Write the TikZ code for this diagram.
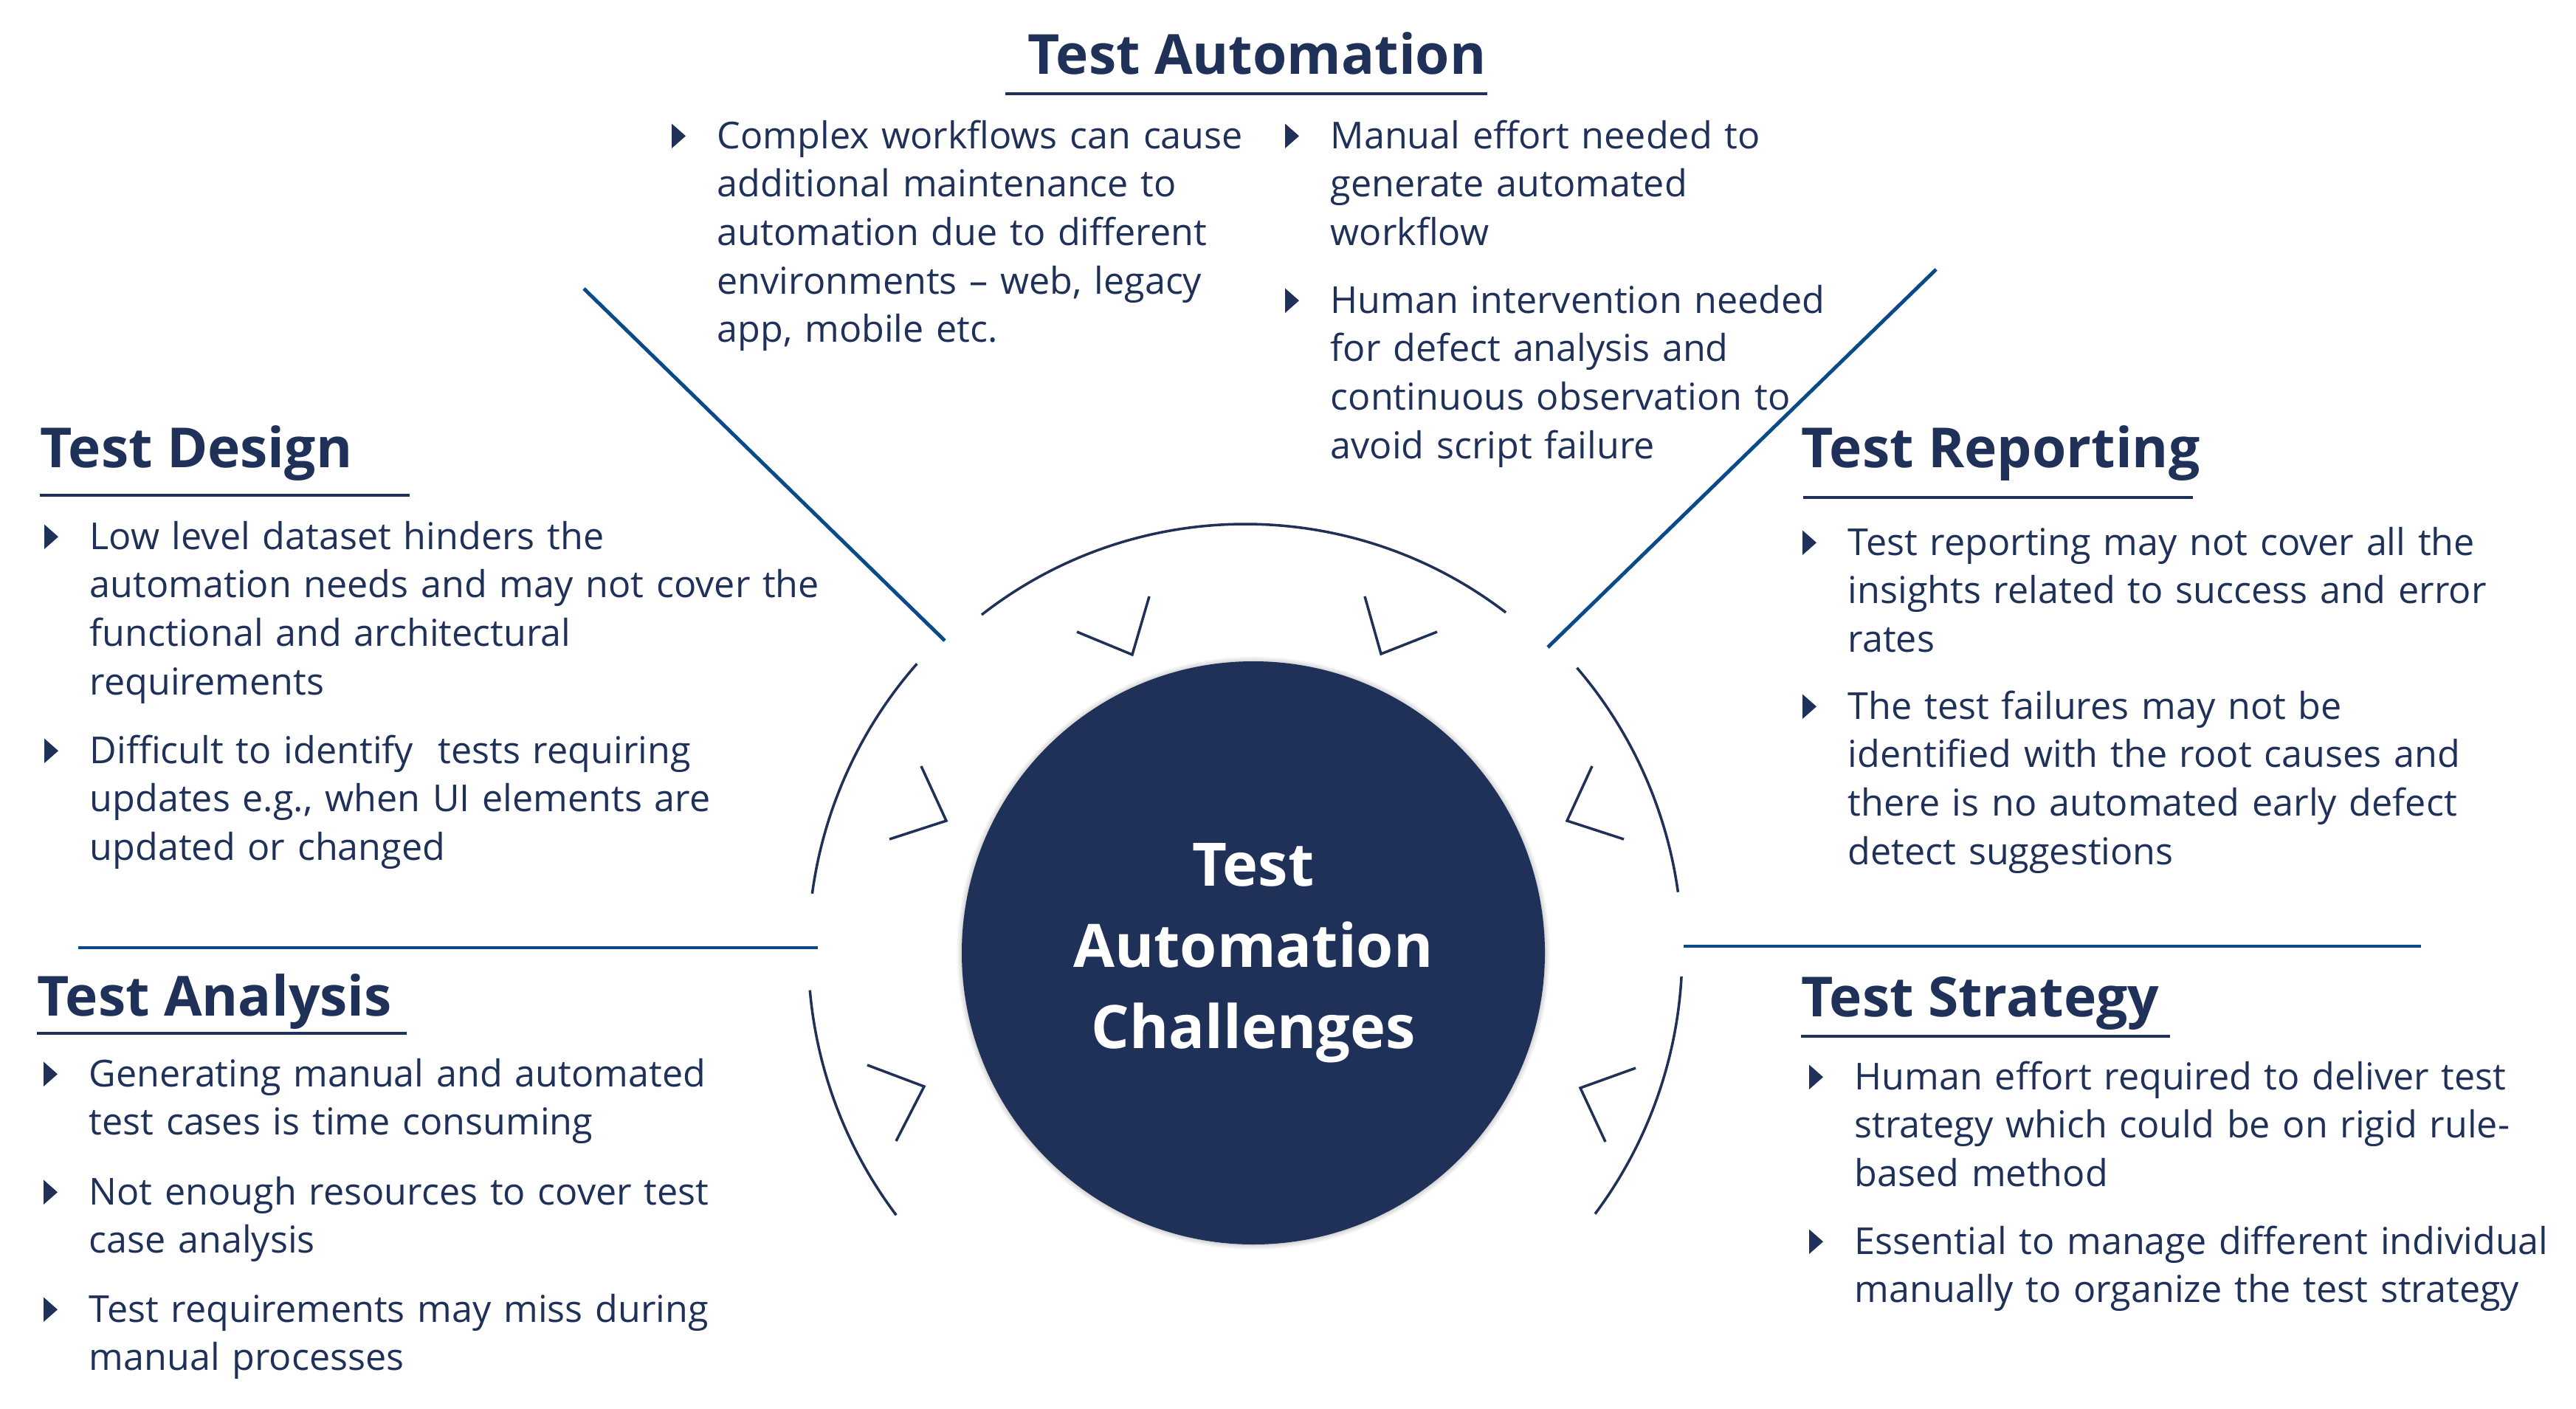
\documentclass[tikz,border=0pt]{standalone}
\usepackage{fontspec}
\setmainfont{Open Sans}
\usetikzlibrary{shadows.blur}
\definecolor{navy}{HTML}{1F3158}
\definecolor{lineblue}{HTML}{0B4A8A}
\tikzset{
  head/.style={anchor=base west, inner sep=0, text=navy, font=\fontsize{21.3}{25}\selectfont\bfseries},
  item/.style={anchor=base west, inner sep=0, text=navy, align=left, text width=12cm, font=\fontsize{14.3}{18.7}\selectfont},
  rule/.style={navy, line width=1.3pt},
  divider/.style={lineblue, line width=1.4pt},
  ring/.style={navy, line width=1pt},
}
\begin{document}
\begin{tikzpicture}
        \useasboundingbox (0,0) rectangle (34.90,-19.08);
        \coordinate (c) at (16.87,-12.90);
        \node[circle, fill=navy, minimum size=7.9cm, inner sep=0, text=white, align=center,
              font=\fontsize{23.1}{31.3}\selectfont\bfseries,
              blur shadow={shadow xshift=0.02, shadow yshift=-0.09, shadow blur steps=12, shadow opacity=35}]
              (hub) at (16.98,-12.91) {Test\\Automation\\Challenges};
        \draw[ring] ([shift={(52.5:5.80)}]c) arc[start angle=52.5, end angle=128, radius=5.80];
        \draw[ring] ([shift={(138.7:5.92)}]c) arc[start angle=138.7, end angle=172.3, radius=5.92];
        \draw[ring] ([shift={(185:5.92)}]c) arc[start angle=185, end angle=217, radius=5.92];
        \draw[ring] ([shift={(7.9:5.92)}]c) arc[start angle=7.9, end angle=40.6, radius=5.92];
        \draw[ring] ([shift={(-36.8:5.92)}]c) arc[start angle=-36.8, end angle=-3.2, radius=5.92];
        \draw[ring] (14.59,-8.56) -- (15.34,-8.87) -- (15.57,-8.08);
        \draw[ring] (18.49,-8.08) -- (18.71,-8.86) -- (19.47,-8.56);
        \draw[ring] (12.48,-10.38) -- (12.82,-11.12) -- (12.05,-11.37);
        \draw[ring] (11.75,-14.43) -- (12.52,-14.72) -- (12.14,-15.46);
        \draw[ring] (21.57,-10.38) -- (21.23,-11.12) -- (22.00,-11.37);
        \draw[ring] (22.16,-14.47) -- (21.41,-14.74) -- (21.75,-15.47);
        \draw[divider] (7.91,-3.91) -- (12.80,-8.68);
        \draw[divider] (26.23,-3.65) -- (20.97,-8.77);
        \draw[divider] (1.06,-12.84) -- (11.08,-12.84);
        \draw[divider] (22.81,-12.82) -- (32.80,-12.82);
        \node[head] (autoH) at (13.92,-1.00) {Test Automation};
        \draw[rule] (13.62,-1.27) -- (20.15,-1.27);
        \node[item] (m1) at (9.71,-2.01) {Complex workflows can cause\\additional maintenance to\\automation due to different\\environments – web, legacy\\app, mobile etc.};
        \node[item] (m2) at (18.02,-2.01) {Manual effort needed to\\generate automated\\workflow};
        \node[item] (m3) at (18.02,-4.24) {Human intervention needed\\for defect analysis and\\continuous observation to\\avoid script failure};
        \node[head] (desH) at (0.54,-6.33) {Test Design};
        \draw[rule] (0.54,-6.71) -- (5.55,-6.71);
        \node[item] (d1) at (1.21,-7.44) {Low level dataset hinders the\\automation needs and may not cover the\\functional and architectural\\requirements};
        \node[item] (d2) at (1.21,-10.34) {Difficult to identify\ \ tests requiring\\updates e.g., when UI elements are\\updated or changed};
        \node[head] (anaH) at (0.50,-13.76) {Test Analysis};
        \draw[rule] (0.50,-14.00) -- (5.51,-14.00);
        \node[item] (a1) at (1.20,-14.72) {Generating manual and automated\\test cases is time consuming};
        \node[item] (a2) at (1.20,-16.32) {Not enough resources to cover test\\case analysis};
        \node[item] (a3) at (1.20,-17.91) {Test requirements may miss during\\manual processes};
        \node[head] (repH) at (24.40,-6.33) {Test Reporting};
        \draw[rule] (24.43,-6.74) -- (29.71,-6.74);
        \node[item] (r1) at (25.03,-7.52) {Test reporting may not cover all the\\insights related to success and error\\rates};
        \node[item] (r2) at (25.03,-9.74) {The test failures may not be\\identified with the root causes and\\there is no automated early defect\\detect suggestions};
        \node[head] (strH) at (24.40,-13.77) {Test Strategy};
        \draw[rule] (24.40,-14.04) -- (29.40,-14.04);
        \node[item] (s1) at (25.12,-14.76) {Human effort required to deliver test\\strategy which could be on rigid rule-\\based method};
        \node[item] (s2) at (25.12,-16.99) {Essential to manage different individual\\manually to organize the test strategy};
        \foreach \n in {m1,m2,m3,d1,d2,a1,a2,a3,r1,r2,s1,s2}
            \fill[navy] ([xshift=-6.1mm]\n.base west) -- ++(0,0.335) -- ++(0.19,-0.1675) -- cycle;
\end{tikzpicture}
\end{document}
